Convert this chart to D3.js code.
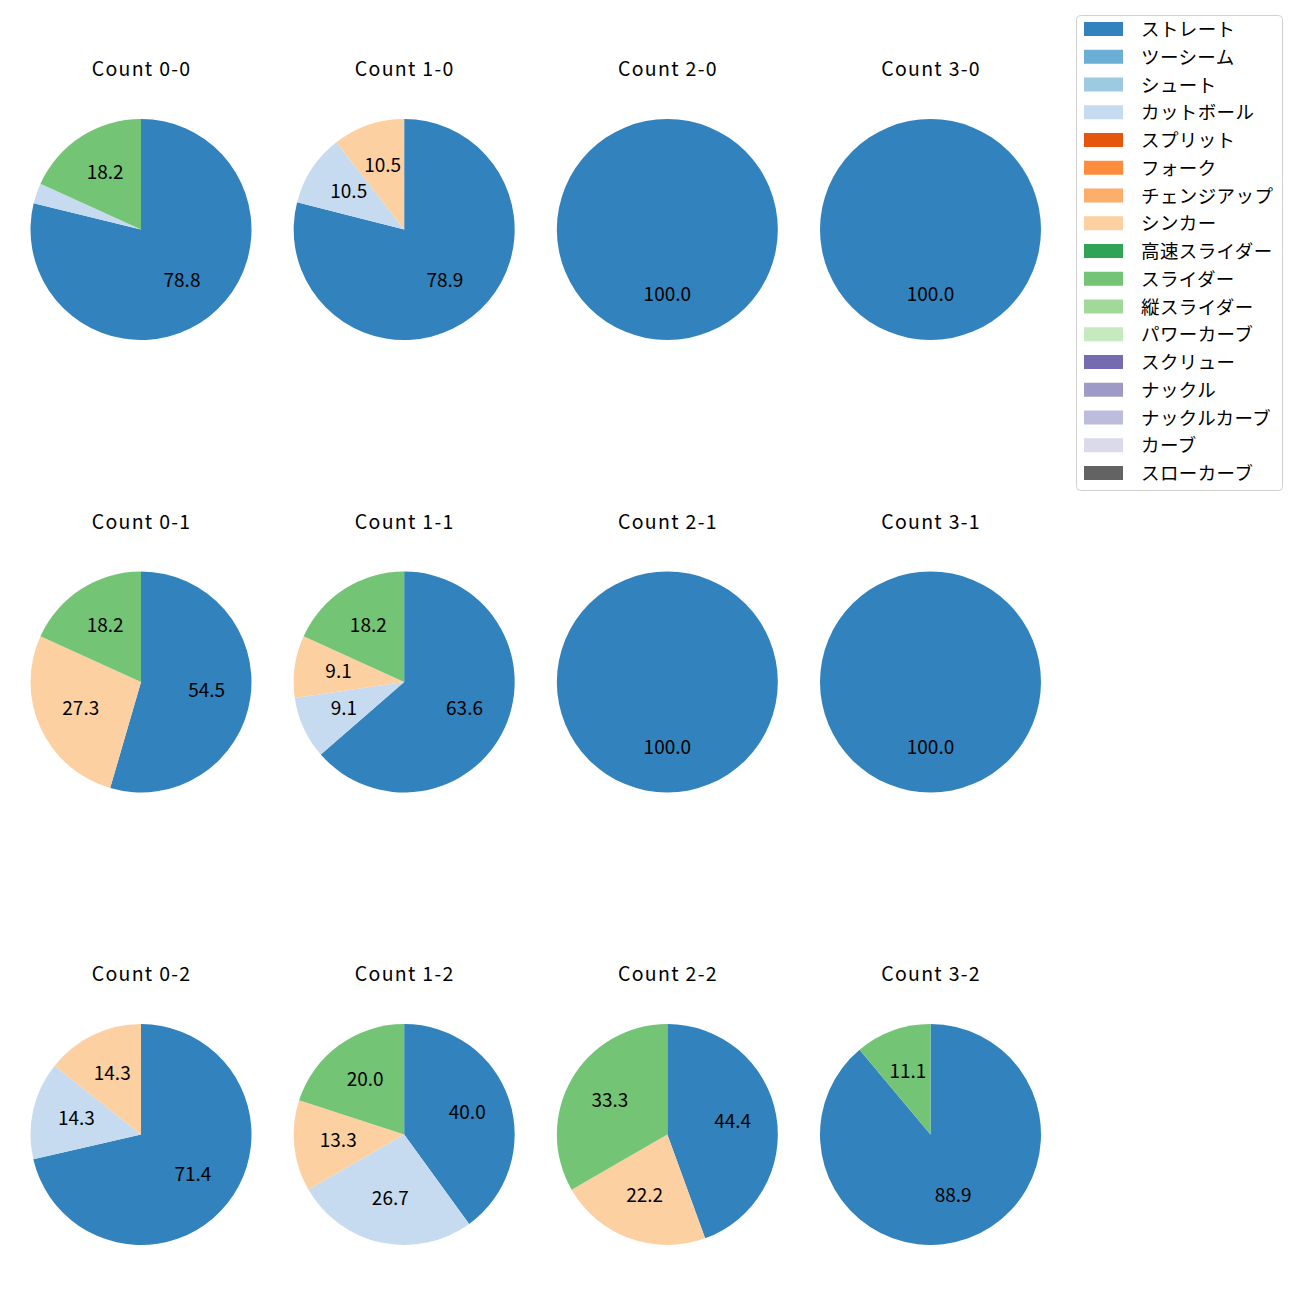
<!DOCTYPE html>
<html><head><meta charset="utf-8">
<script src="https://cdn.jsdelivr.net/npm/d3@7"></script>
<style>body{margin:0;background:#fff}svg{display:block}text{font-family:"Noto Sans CJK JP","Noto Sans",sans-serif}</style>
</head><body><div id="chart"></div>
<script>
const pitchTypes = ["ストレート","ツーシーム","シュート","カットボール","スプリット","フォーク","チェンジアップ","シンカー","高速スライダー","スライダー","縦スライダー","パワーカーブ","スクリュー","ナックル","ナックルカーブ","カーブ","スローカーブ"];
const pitchColors = ["#3182bd","#6baed6","#9ecae1","#c6dbef","#e6550d","#fd8d3c","#fdae6b","#fdd0a2","#31a354","#74c476","#a1d99b","#c7e9c0","#756bb1","#9e9ac8","#bcbddc","#dadaeb","#636363"];
const countTitles = ["Count 0-0","Count 1-0","Count 2-0","Count 3-0","Count 0-1","Count 1-1","Count 2-1","Count 3-1","Count 0-2","Count 1-2","Count 2-2","Count 3-2"];
// percentages per count: [ストレート, カットボール, シンカー, スライダー]
const seriesTypes = ["ストレート","カットボール","シンカー","スライダー"];
const straightPct = [78.8, 78.9, 100, 100, 54.5, 63.6, 100, 100, 71.4, 40.0, 44.4, 88.9];
const cutterPct   = [3.0, 10.5, 0, 0, 0, 9.1, 0, 0, 14.3, 26.7, 0, 0];
const sinkerPct   = [0, 10.5, 0, 0, 27.3, 9.1, 0, 0, 14.3, 13.3, 22.2, 0];
const sliderPct   = [18.2, 0, 0, 0, 18.2, 18.2, 0, 0, 0, 20.0, 33.3, 11.1];
const seriesValues = [straightPct, cutterPct, sinkerPct, sliderPct];

const W = 1300, H = 1300;
const svg = d3.select("#chart").append("svg").attr("width", W).attr("height", H);
const color = d3.scaleOrdinal().domain(pitchTypes).range(pitchColors);

const colX = d3.scalePoint().domain([0,1,2,3]).range([141, 930.5]);
const rowY = d3.scalePoint().domain([0,1,2]).range([229.5, 1134.5]);
const R = 110.5;
const LFS = 19, TFS = 19.5, GFS = 18.5;

const pie = d3.pie().sort(null).value(d => d.value);
const arc = d3.arc().innerRadius(0).outerRadius(R);
const labelArc = d3.arc().innerRadius(R*0.6).outerRadius(R*0.6);

countTitles.forEach((title, i) => {
  const col = i % 4, row = Math.floor(i / 4);
  const cx = colX(col), cy = rowY(row);
  const data = seriesTypes.map((t, k) => ({type: t, value: seriesValues[k][i]})).filter(d => d.value > 0);
  const g = svg.append("g").attr("transform", `translate(${cx},${cy})`);
  const arcs = pie(data);
  g.selectAll("path").data(arcs).join("path")
    .attr("d", arc).attr("fill", d => color(d.data.type));
  g.selectAll("text.lbl").data(arcs.filter(d => d.data.value >= 5)).join("text")
    .attr("class","lbl")
    .attr("transform", d => { const c = labelArc.centroid(d); return `translate(${c[0]},${c[1] + LFS*0.36 - 1.5})`; })
    .attr("text-anchor","middle")
    .attr("font-size", LFS).attr("fill","#000")
    .text(d => d.data.value.toFixed(1));
  svg.append("text").attr("x", cx + 0.6).attr("y", cy - 153.5)
    .attr("text-anchor","middle").attr("letter-spacing", 1.3)
    .attr("font-size", TFS).attr("fill","#000").text(title);
});

// legend
const lg = svg.append("g");
lg.append("rect").attr("x",1076.5).attr("y",15.5).attr("width",206).attr("height",475)
  .attr("rx",4).attr("fill","#fff").attr("stroke","#d0d0d0");
const ly = d3.scalePoint().domain(pitchTypes).range([29, 473]);
pitchTypes.forEach(t => {
  lg.append("rect").attr("x",1084).attr("y", ly(t)-7).attr("width",39).attr("height",14).attr("fill", color(t));
  lg.append("text").attr("x",1141).attr("y", ly(t) - 1).attr("dominant-baseline","central")
    .attr("letter-spacing", 0.4)
    .attr("font-size", GFS).attr("fill","#000").text(t);
});
</script></body></html>
